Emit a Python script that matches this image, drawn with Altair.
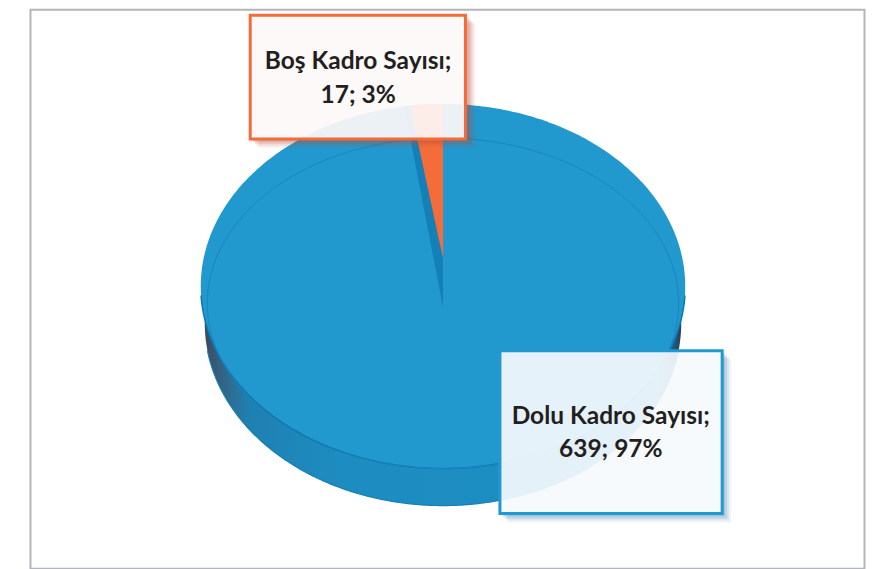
import numpy as np
import pandas as pd
import altair as alt

categories = ["Boş Kadro Sayısı", "Dolu Kadro Sayısı"]
counts = [17, 639]
percents = [3, 97]
slice_colors = ["#F46C3A", "#2198CE"]

# pie geometry in picture pixels
CX, CY, RX, RY = 443.5, 286, 242.5, 182
DEPTH = 37
FX = alt.X("x:Q", axis=None, scale=alt.Scale(domain=[8, 866]))
FY = alt.Y("y:Q", axis=None, scale=alt.Scale(domain=[569, 9.5]))
Y2 = alt.Y2("y2:Q")
X2 = alt.X2("x2:Q")


def ellipse_area(cx, cy, rx, ry, n=240):
    u = -np.cos(np.linspace(0, np.pi, n))
    h = ry * np.sqrt(np.clip(1 - u * u, 0, 1))
    return pd.DataFrame({"x": cx + rx * u, "y": cy - h, "y2": cy + h})


def ellipse_line(cx, cy, rx, ry, a0=0, a1=2 * np.pi, n=240):
    t = np.linspace(a0, a1, n)
    return pd.DataFrame({"t": t, "x": cx + rx * np.cos(t), "y": cy + ry * np.sin(t)})


def wedge(share, apex_y, scale=1.0, n=30):
    theta = 2 * np.pi * share
    s = np.linspace(-np.sin(theta) * scale, 0, n)
    xs = CX + RX * s
    top = CY - RY * np.sqrt(1 - s * s)
    return pd.DataFrame({
        "x": xs,
        "y": top,
        "y2": apex_y + (apex_y - CY + RY) * s / (np.sin(theta) * scale),
    })


share = counts[0] / sum(counts)
side_fill = alt.Gradient(
    gradient="linear", x1=0, x2=1, y1=0, y2=0,
    stops=[
        alt.GradientStop(offset=0, color="#3B4A60"),
        alt.GradientStop(offset=0.03, color="#35607F"),
        alt.GradientStop(offset=0.09, color="#2080B2"),
        alt.GradientStop(offset=0.3, color="#1D8DC1"),
        alt.GradientStop(offset=0.93, color="#1C8EC2"),
        alt.GradientStop(offset=0.975, color="#1B6C99"),
        alt.GradientStop(offset=1, color="#2B3D52"),
    ],
)


def area(df, **mk):
    return alt.Chart(df).mark_area(orient="vertical", **mk).encode(x=FX, y=FY, y2=Y2)


def line(df, **mk):
    return alt.Chart(df).mark_line(**mk).encode(x=FX, y=FY, order="t:Q")


def box(x, x2, y, y2, **mk):
    df = pd.DataFrame({"x": [x], "x2": [x2], "y": [y], "y2": [y2]})
    return alt.Chart(df).mark_rect(**mk).encode(x=FX, x2=X2, y=FY, y2=Y2)


def shadow(x, x2, y, y2, color):
    out = []
    for d, o in [(9, 0.08), (7, 0.12), (5, 0.16), (3, 0.2)]:
        out.append(box(x2, x2 + d, y + d, y2 + d, fill=color, opacity=o))
        out.append(box(x + d, x2, y2, y2 + d, fill=color, opacity=o))
    return out


def label(cat, count, pct, xc, y1, y2):
    df = pd.DataFrame({"x": [xc, xc], "y": [y1, y2],
                       "s": [f"{cat};", f"{count}; {pct}%"]})
    return alt.Chart(df).mark_text(
        font="Lato", fontSize=24.5, fontWeight="bold", color="#231F20",
        align="center", baseline="middle",
    ).encode(x=FX, y=FY, text="s:N")


layers = [
    box(30.5, 865.5, 10, 568, fill="white", stroke="#B4B4BC", strokeWidth=2),
    area(ellipse_area(CX, CY + DEPTH, RX - 4, RY), fill=side_fill),
    line(ellipse_line(CX, CY + DEPTH, RX - 4, RY, 0.15, np.pi - 0.15),
         stroke="#1480B5", strokeWidth=1.2),
    area(ellipse_area(CX, CY, RX, RY), fill=slice_colors[1]),
    line(ellipse_line(CX, CY, RX, RY, 0.05, np.pi - 0.05),
         stroke="#0E78B0", strokeWidth=1.5),
    line(ellipse_line(CX, 303, 236, 165), stroke="#1A86BC", strokeWidth=1),
    area(wedge(share, 307), fill="#1480B8"),
    area(wedge(share, 258, scale=0.85), fill=slice_colors[0]),
]

layers += shadow(250, 467, 15, 139, "#B9503A")
layers.append(box(250.5, 466, 15.5, 139, fill="#FDF8F7", fillOpacity=0.92,
                  stroke="#F26B38", strokeWidth=3))
layers.append(label(categories[0], counts[0], percents[0], 358.5, 62, 96))

layers += shadow(500, 723, 350, 513, "#3C7FA8")
layers.append(box(500.5, 723, 350.5, 513, fill="#F6FAFD", fillOpacity=0.92,
                  stroke="#1E9AD0", strokeWidth=3))
layers.append(label(categories[1], counts[1], percents[1], 611.5, 417, 450))

chart = alt.layer(*layers).properties(
    width=858, height=561, padding=0, background="white",
).configure_view(stroke=None)

chart.save("out.html", embed_options={"renderer": "svg", "actions": False})
